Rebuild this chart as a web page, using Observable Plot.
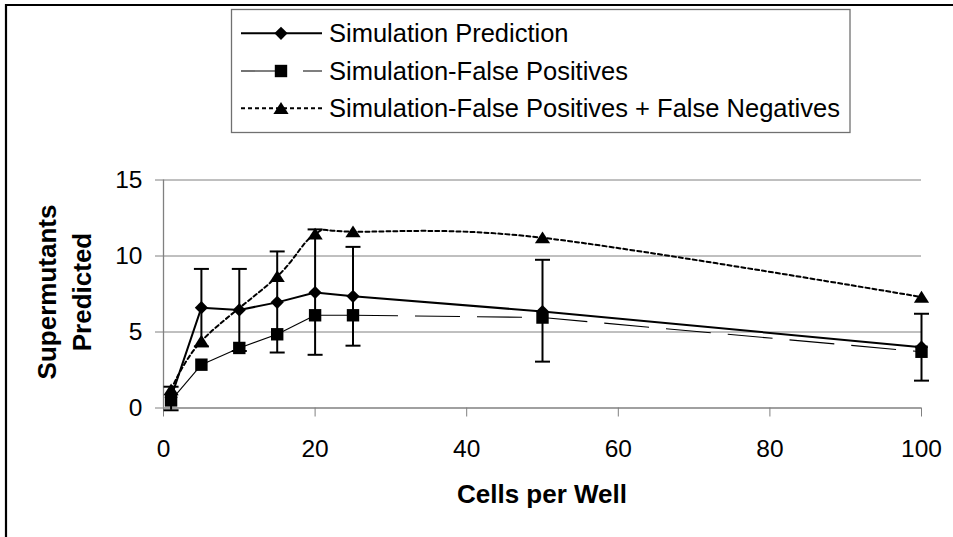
<!DOCTYPE html>
<html>
<head>
<meta charset="utf-8">
<script src="https://cdn.jsdelivr.net/npm/d3@7"></script>
<script src="https://cdn.jsdelivr.net/npm/@observablehq/plot@0.6"></script>
<style>
  html, body { margin: 0; padding: 0; background: #fff; }
  #chart { position: relative; width: 953px; height: 537px; overflow: hidden; }
</style>
</head>
<body>
<div id="chart"></div>
<script>
// ---- data ----
const cells      = [1, 5, 10, 15, 20, 25, 50, 100];
const prediction = [0.7, 6.6, 6.45, 6.95, 7.6, 7.35, 6.35, 4.0];
const predLow    = [-0.15, 4.05, 3.75, 3.65, 3.5, 4.1, 3.05, 1.8];
const predHigh   = [1.4, 9.15, 9.15, 10.3, 11.75, 10.6, 9.75, 6.2];
const falsePos   = [0.5, 2.85, 3.95, 4.85, 6.1, 6.1, 5.95, 3.7];
const fpfn       = [1.2, 4.4, null, 8.65, 11.45, 11.6, 11.2, 7.3];
const seriesNames = [
  "Simulation Prediction",
  "Simulation-False Positives",
  "Simulation-False Positives + False Negatives"
];
const xTicks = [0, 20, 40, 60, 80, 100];
const yTicks = [0, 5, 10, 15];
const xTitle = "Cells per Well";
const yTitle = ["Supermutants", "Predicted"];

// ---- tables built from the arrays ----
const predRows = cells.map((x, i) => ({x, y: prediction[i], lo: predLow[i], hi: predHigh[i]}));
const fpRows = cells.map((x, i) => ({x, y: falsePos[i]}));
const fpSegs = d3.pairs(fpRows).map(([a, b]) => ({x1: a.x, y1: a.y, x2: b.x, y2: b.y}));
const fnRows = cells.map((x, i) => ({x, y: fpfn[i]})).filter(d => d.y != null);

// ---- marker shapes ----
const diamondSym = {draw(c) { const r = 6.6; c.moveTo(0, -r); c.lineTo(r, 0); c.lineTo(0, r); c.lineTo(-r, 0); c.closePath(); }};
const squareSym  = {draw(c) { const h = 6.2; c.rect(-h, -h, 2 * h, 2 * h); }};
const triSym     = {draw(c) { c.moveTo(0, -6.3); c.lineTo(7.6, 5.6); c.lineTo(-7.6, 5.6); c.closePath(); }};
const capSym     = {draw(c) { c.moveTo(-7.5, 0); c.lineTo(7.5, 0); }};

const FONT = "'Liberation Sans', Arial, sans-serif";
const GRAY = "#808080";

const plot = Plot.plot({
  width: 953,
  height: 537,
  marginTop: 179.5,
  marginBottom: 129.5,
  marginLeft: 163,
  marginRight: 32,
  x: {domain: [0, 100]},
  y: {domain: [0, 15]},
  style: {fontFamily: FONT, fontSize: "24.5px", color: "#000", background: "#fff", overflow: "visible"},
  marks: [
    Plot.gridY(yTicks.slice(1), {stroke: GRAY, strokeOpacity: 1, strokeWidth: 1}),
    Plot.ruleY([0], {stroke: GRAY, strokeWidth: 1.3}),
    Plot.ruleX([0], {stroke: GRAY, strokeWidth: 1.3}),
    Plot.axisX(xTicks, {tickSize: 9, tickPadding: 23, stroke: GRAY, fill: "#000", fontSize: 24.5, label: null}),
    Plot.axisY(yTicks, {tickSize: 8, tickPadding: 13, stroke: GRAY, fill: "#000", fontSize: 24.5, label: null}),
    // FP + FN (dotted, smoothed)
    Plot.line(fnRows, {x: "x", y: "y", stroke: "#000", strokeWidth: 2, strokeDasharray: "4,3", curve: "cardinal"}),
    // False positives (thin long dash, restarting on each segment)
    Plot.link(fpSegs, {x1: "x1", y1: "y1", x2: "x2", y2: "y2", stroke: "#000", strokeWidth: 1.1, strokeDasharray: "45,17"}),
    // Prediction line
    Plot.line(predRows, {x: "x", y: "y", stroke: "#000", strokeWidth: 2}),
    // Error bars
    Plot.ruleX(predRows, {x: "x", y1: "lo", y2: "hi", stroke: "#000", strokeWidth: 2}),
    Plot.dot(predRows, {x: "x", y: "hi", symbol: capSym, stroke: "#000", strokeWidth: 2, fill: "none"}),
    Plot.dot(predRows, {x: "x", y: "lo", symbol: capSym, stroke: "#000", strokeWidth: 2, fill: "none"}),
    // markers
    Plot.dot(fnRows, {x: "x", y: "y", symbol: triSym, fill: "#000", stroke: "none"}),
    Plot.dot(fpRows, {x: "x", y: "y", symbol: squareSym, fill: "#000", stroke: "none"}),
    Plot.dot(predRows, {x: "x", y: "y", symbol: diamondSym, fill: "#000", stroke: "none"})
  ]
});

document.getElementById("chart").appendChild(plot);

// ---- decorations: outer frame, axis titles, legend ----
const svg = d3.select(plot);
svg.append("path")
  .attr("d", "M6,540 L6,5 L960,5")
  .attr("fill", "none").attr("stroke", "#000").attr("stroke-width", 2.2);

svg.append("text")
  .attr("x", 542).attr("y", 494).attr("dy", "0.35em")
  .attr("text-anchor", "middle")
  .attr("font-family", FONT).attr("font-size", 26).attr("font-weight", "bold")
  .attr("fill", "#000")
  .text(xTitle);

yTitle.forEach((t, i) => {
  const cx = [46.7, 81.7][i];
  svg.append("text")
    .attr("transform", `translate(${cx},292) rotate(-90)`)
    .attr("dy", "0.35em")
    .attr("text-anchor", "middle")
    .attr("font-family", FONT).attr("font-size", 26).attr("font-weight", "bold")
    .attr("fill", "#000")
    .text(t);
});

const lg = svg.append("g").attr("text-anchor", "start");
lg.append("rect")
  .attr("x", 231.5).attr("y", 9.5).attr("width", 618.5).attr("height", 123)
  .attr("fill", "#fff").attr("stroke", "#707070").attr("stroke-width", 1.3);

const rowY = [33.3, 71, 108.3];
const symFns = [diamondSym, squareSym, triSym];
const lineStyles = [
  {w: 2, dash: null},
  {w: 1.1, dash: "45,17"},
  {w: 2, dash: "4,3"}
];
seriesNames.forEach((name, i) => {
  const y = rowY[i];
  const ln = lg.append("line")
    .attr("x1", 241).attr("x2", 322).attr("y1", y).attr("y2", y)
    .attr("stroke", "#000").attr("stroke-width", lineStyles[i].w);
  if (lineStyles[i].dash) ln.attr("stroke-dasharray", lineStyles[i].dash);
  lg.append("path")
    .attr("transform", `translate(281,${y})`)
    .attr("d", d3.symbol(symFns[i])())
    .attr("fill", "#000");
  lg.append("text")
    .attr("x", 329).attr("y", y).attr("dy", "0.35em")
    .attr("text-anchor", "start")
    .attr("font-family", FONT).attr("font-size", 25.5)
    .attr("fill", "#000")
    .text(name);
});
</script>
</body>
</html>
